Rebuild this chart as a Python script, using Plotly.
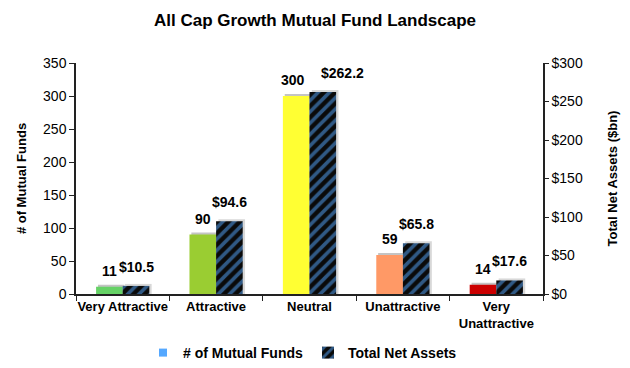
import plotly.graph_objects as go

categories = ["Very Attractive", "Attractive", "Neutral", "Unattractive", "Very<br>Unattractive"]
num_funds = [11, 90, 300, 59, 14]
net_assets = [10.5, 94.6, 262.2, 65.8, 17.6]
fund_labels = ["11", "90", "300", "59", "14"]
asset_labels = ["$10.5", "$94.6", "$262.2", "$65.8", "$17.6"]
left_ticks = [0, 50, 100, 150, 200, 250, 300, 350]
right_ticks = [0, 50, 100, 150, 200, 250, 300]
right_tick_labels = ["$0", "$50", "$100", "$150", "$200", "$250", "$300"]

bar_colors = ["#66D266", "#9ACD32", "#FFFF33", "#FF9966", "#CC0000"]
BLUE = "#55A8FF"
FONT = "Arial, Liberation Sans, sans-serif"

W, H = 630, 368
ML, MR, MT, MB = 76, 87, 63, 74
plot_w = W - ML - MR
plot_h = H - MT - MB
BW = 0.285
cat_px = plot_w / len(categories)
# shadow offsets in px converted to data units
sh_y1 = 2 * 350 / plot_h
sh_y2 = 2 * 300 / plot_h

fig = go.Figure()
# soft shadows
fig.add_trace(go.Bar(
    x=categories, y=[v + sh_y1 for v in num_funds], showlegend=False, hoverinfo="skip",
    marker=dict(color="#C4C4C4", line=dict(width=0)),
    width=BW, offset=-BW + 0.02,
))
fig.add_trace(go.Bar(
    x=categories, y=[v + sh_y2 for v in net_assets], showlegend=False, hoverinfo="skip",
    yaxis="y2", marker=dict(color="#D8D8D8", line=dict(width=0)),
    width=BW, offset=0.025,
))
fig.add_trace(go.Bar(
    x=categories, y=num_funds, name="# of Mutual Funds", showlegend=False,
    marker=dict(color=bar_colors, line=dict(width=0)),
    width=BW, offset=-BW,
))
fig.add_trace(go.Bar(
    x=categories, y=net_assets, name="Total Net Assets", yaxis="y2",
    marker=dict(color="#0A0A0A", line=dict(width=0),
                pattern=dict(shape="/", fgcolor=BLUE, bgcolor="#0A0A0A",
                             size=8, solidity=0.45)),
    width=BW, offset=0,
))
fig.add_trace(go.Scatter(
    x=[None], y=[None], mode="markers", name="# of Mutual Funds",
    marker=dict(symbol="square", size=8, color=BLUE),
))

label_font = dict(family=FONT, size=14, color="black", weight="bold")
dx = cat_px * BW / 2
nudge_funds = {2: -3}
nudge_assets = {2: 20}
for i, (cat, v, t) in enumerate(zip(categories, num_funds, fund_labels)):
    fig.add_annotation(x=cat, y=v, yref="y", text=t, showarrow=False,
                       xshift=-dx + nudge_funds.get(i, 0),
                       yshift=16, yanchor="middle", font=label_font)
for i, (cat, v, t) in enumerate(zip(categories, net_assets, asset_labels)):
    fig.add_annotation(x=cat, y=v, yref="y2", text=t, showarrow=False,
                       xshift=dx + nudge_assets.get(i, 0),
                       yshift=19, yanchor="middle", font=label_font)

fig.update_layout(
    width=W, height=H,
    margin=dict(l=ML, r=MR, t=MT, b=MB, autoexpand=False),
    paper_bgcolor="white", plot_bgcolor="white",
    font=dict(family=FONT, size=12, color="black"),
    title=dict(text="<b>All Cap Growth Mutual Fund Landscape</b>", x=0.5, xanchor="center",
               y=1 - 20 / H, yanchor="middle", font=dict(size=17, family=FONT)),
    xaxis=dict(showline=True, linecolor="#222222", linewidth=1.5, ticks="outside",
               tickson="boundaries", ticklen=5, tickcolor="#222222", tickangle=0,
               tickfont=dict(size=13, weight="bold"), showgrid=False, automargin=False),
    yaxis=dict(range=[0, 350], tickvals=left_ticks, showline=True, linecolor="#222222",
               linewidth=1.5, ticks="outside", ticklen=5, tickcolor="#222222", showgrid=False,
               zeroline=False, tickfont=dict(size=14), automargin=False,
               title=dict(text="<b># of Mutual Funds</b>", font=dict(size=13), standoff=14)),
    yaxis2=dict(range=[0, 300], tickvals=right_ticks, ticktext=right_tick_labels,
                overlaying="y", side="right", showline=True, linecolor="#222222", linewidth=1.5,
                ticks="outside", ticklen=4, tickcolor="#222222", showgrid=False, zeroline=False,
                tickfont=dict(size=14), automargin=False,
                title=dict(text="<b>Total Net Assets ($bn)</b>", font=dict(size=13), standoff=26)),
    legend=dict(orientation="h", x=(143 - ML) / plot_w, xanchor="left",
                y=((H - MB) - 353) / plot_h, yanchor="middle",
                font=dict(size=14, weight="bold"), traceorder="reversed",
                itemwidth=30),
    barmode="overlay",
)

fig.write_html("out.html", config={"displayModeBar": False},
               post_script="document.body.style.margin='0';")
